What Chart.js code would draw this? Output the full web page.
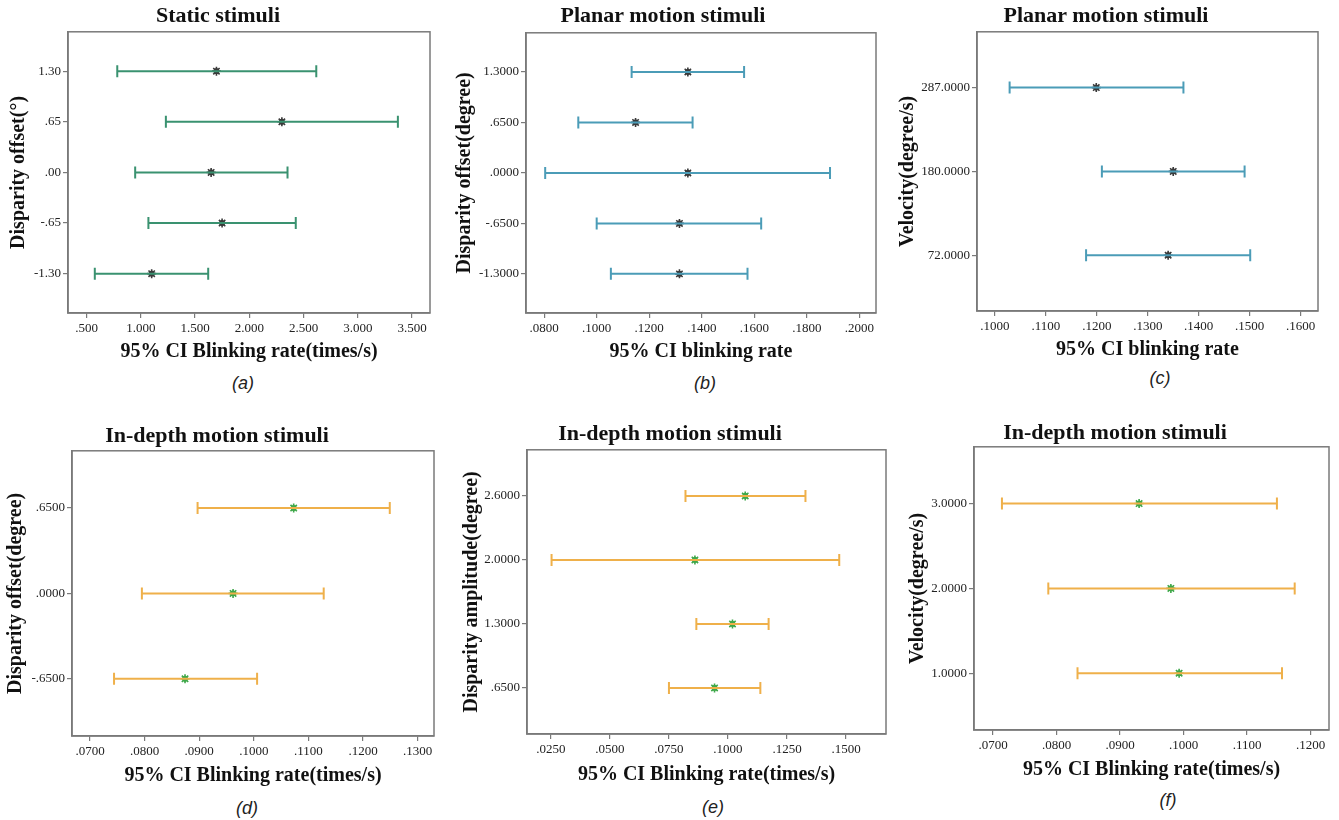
<!DOCTYPE html>
<html>
<head>
<meta charset="utf-8">
<script src="https://cdn.jsdelivr.net/npm/chart.js@4.4.0/dist/chart.umd.min.js"></script>
<style>
  body { margin: 0; background: #fff; width: 1339px; height: 820px; position: relative; overflow: hidden; }
  .panel { position: absolute; }
  .ttl { position: absolute; transform: translate(-50%, -50%); white-space: nowrap;
         font: bold 22px 'Liberation Serif', serif; color: #111; }
  .cap { position: absolute; transform: translate(-50%, -50%); white-space: nowrap;
         font: italic 18px 'Liberation Sans', sans-serif; color: #222; }
</style>
</head>
<body>
<script>
// (a) Static stimuli
const aLabels = ['-1.30', '-.65', '.00', '.65', '1.30'];
const aLow  = [0.576, 1.070, 0.948, 1.231, 0.783];
const aMean = [1.100, 1.749, 1.648, 2.300, 1.697];
const aHigh = [1.621, 2.428, 2.352, 3.369, 2.617];
const aTicks = [0.5, 1, 1.5, 2, 2.5, 3, 3.5];
const aTickLabels = ['.500', '1.000', '1.500', '2.000', '2.500', '3.000', '3.500'];

// (b) Planar motion, disparity offset
const bLabels = ['-1.3000', '-.6500', '.0000', '.6500', '1.3000'];
const bLow  = [0.1054, 0.1000, 0.0804, 0.0930, 0.1133];
const bMean = [0.1315, 0.1315, 0.1347, 0.1148, 0.1347];
const bHigh = [0.1574, 0.1626, 0.1888, 0.1365, 0.1561];
const bTicks = [0.08, 0.10, 0.12, 0.14, 0.16, 0.18, 0.20];
const bTickLabels = ['.0800', '.1000', '.1200', '.1400', '.1600', '.1800', '.2000'];

// (c) Planar motion, velocity
const cLabels = ['72.0000', '180.0000', '287.0000'];
const cLow  = [0.1179, 0.1210, 0.1029];
const cMean = [0.1340, 0.1350, 0.1199];
const cHigh = [0.1501, 0.1490, 0.1370];
const cTicks = [0.10, 0.11, 0.12, 0.13, 0.14, 0.15, 0.16];
const cTickLabels = ['.1000', '.1100', '.1200', '.1300', '.1400', '.1500', '.1600'];

// (d) In-depth motion, disparity offset
const dLabels = ['-.6500', '.0000', '.6500'];
const dLow  = [0.0744, 0.0795, 0.0897];
const dMean = [0.0874, 0.0962, 0.1073];
const dHigh = [0.1006, 0.1128, 0.1249];
const dTicks = [0.07, 0.08, 0.09, 0.10, 0.11, 0.12, 0.13];
const dTickLabels = ['.0700', '.0800', '.0900', '.1000', '.1100', '.1200', '.1300'];

// (e) In-depth motion, disparity amplitude
const eLabels = ['.6500', '1.3000', '2.0000', '2.6000'];
const eLow  = [0.0750, 0.0866, 0.0253, 0.0820];
const eMean = [0.0943, 0.1019, 0.0860, 0.1073];
const eHigh = [0.1137, 0.1172, 0.1471, 0.1328];
const eTicks = [0.025, 0.05, 0.075, 0.10, 0.125, 0.15];
const eTickLabels = ['.0250', '.0500', '.0750', '.1000', '.1250', '.1500'];

// (f) In-depth motion, velocity
const fLabels = ['1.0000', '2.0000', '3.0000'];
const fLow  = [0.0833, 0.0787, 0.0714];
const fMean = [0.0993, 0.0980, 0.0930];
const fHigh = [0.1155, 0.1175, 0.1147];
const fTicks = [0.07, 0.08, 0.09, 0.10, 0.11, 0.12];
const fTickLabels = ['.0700', '.0800', '.0900', '.1000', '.1100', '.1200'];

const GREEN = '#3a9270', TEAL = '#4b9cb7', ORANGE = '#efb04a';
const DARK = '#3a3a3a', MARK_GREEN = '#3fa84a';

// box = plot area [left, top, right, bottom]; yt = y-title centre x; xt = x-title centre y
const panels = [
  { labels: aLabels, low: aLow, mean: aMean, high: aHigh, ticks: aTicks, tickLabels: aTickLabels,
    xMin: 0.329, xMax: 3.665, pad: 0.777, line: GREEN, mark: DARK,
    title: 'Static stimuli', yTitle: 'Disparity offset(°)', xTitle: '95% CI Blinking rate(times/s)', cap: '(a)',
    box: [68, 27, 433, 313], yt: 19, xt: 352, titlePos: [218, 15], capPos: [243, 383] },
  { labels: bLabels, low: bLow, mean: bMean, high: bHigh, ticks: bTicks, tickLabels: bTickLabels,
    xMin: 0.0731, xMax: 0.2063, pad: 0.775, line: TEAL, mark: DARK,
    title: 'Planar motion stimuli', yTitle: 'Disparity offset(degree)', xTitle: '95% CI blinking rate', cap: '(b)',
    box: [526, 28, 879, 313], yt: 465, xt: 352, titlePos: [663, 15], capPos: [705, 383] },
  { labels: cLabels, low: cLow, mean: cMean, high: cHigh, ticks: cTicks, tickLabels: cTickLabels,
    xMin: 0.0965, xMax: 0.1634, pad: 0.666, line: TEAL, mark: DARK,
    title: 'Planar motion stimuli', yTitle: 'Velocity(degree/s)', xTitle: '95% CI blinking rate', cap: '(c)',
    box: [977, 27, 1321, 311], yt: 908, xt: 350, titlePos: [1106, 15], capPos: [1160, 378] },
  { labels: dLabels, low: dLow, mean: dMean, high: dHigh, ticks: dTicks, tickLabels: dTickLabels,
    xMin: 0.0667, xMax: 0.1330, pad: 0.67, line: ORANGE, mark: MARK_GREEN,
    title: 'In-depth motion stimuli', yTitle: 'Disparity offset(degree)', xTitle: '95% CI Blinking rate(times/s)', cap: '(d)',
    box: [72, 446, 437, 736], yt: 15.5, xt: 776, titlePos: [217, 435], capPos: [247, 808] },
  { labels: eLabels, low: eLow, mean: eMean, high: eHigh, ticks: eTicks, tickLabels: eTickLabels,
    xMin: 0.0149, xMax: 0.1669, pad: 0.72, line: ORANGE, mark: MARK_GREEN,
    title: 'In-depth motion stimuli', yTitle: 'Disparity amplitude(degree)', xTitle: '95% CI Blinking rate(times/s)', cap: '(e)',
    box: [527, 445, 889, 734], yt: 472, xt: 775, titlePos: [670, 433], capPos: [713, 807] },
  { labels: fLabels, low: fLow, mean: fMean, high: fHigh, ticks: fTicks, tickLabels: fTickLabels,
    xMin: 0.0670, xMax: 0.1229, pad: 0.669, line: ORANGE, mark: MARK_GREEN,
    title: 'In-depth motion stimuli', yTitle: 'Velocity(degree/s)', xTitle: '95% CI Blinking rate(times/s)', cap: '(f)',
    box: [974, 442, 1332, 730], yt: 918, xt: 770, titlePos: [1115, 432], capPos: [1168, 800] },
];

const AXIS_TITLE_SIZE = 20;
const titleOffset = 4 + AXIS_TITLE_SIZE * 1.2 / 2;   // title padding + half line height
const EDGE = 5;

// plot frame on all four sides
const frame = {
  id: 'frame',
  afterDraw(chart) {
    const { ctx, chartArea: a } = chart;
    ctx.save();
    ctx.strokeStyle = '#7a7a7a';
    ctx.lineWidth = 1.5;
    ctx.strokeRect(a.left, a.top, a.right - a.left, a.bottom - a.top);
    ctx.restore();
  }
};

function addText(cls, text, pos) {
  const el = document.createElement('div');
  el.className = cls;
  el.textContent = text;
  el.style.left = pos[0] + 'px';
  el.style.top = pos[1] + 'px';
  document.body.appendChild(el);
}

function makePanel(p) {
  const [L, T, R, B] = p.box;
  const left = Math.round(p.yt - titleOffset);
  const top = T - EDGE;
  const width = R + EDGE - left;
  const bottom = Math.round(p.xt + titleOffset);
  const height = bottom - top;

  const div = document.createElement('div');
  div.className = 'panel';
  div.style.left = left + 'px';
  div.style.top = top + 'px';
  const canvas = document.createElement('canvas');
  canvas.width = width;
  canvas.height = height;
  canvas.style.width = width + 'px';
  canvas.style.height = height + 'px';
  div.appendChild(canvas);
  document.body.appendChild(div);

  const datasets = p.labels.map((_, i) => ({
    type: 'scatter',
    showLine: true,
    data: [{ x: p.low[i], y: i }, { x: p.high[i], y: i }],
    borderColor: p.line,
    borderWidth: 2,
    pointStyle: 'line',
    rotation: 90,
    pointRadius: 6,
    pointBorderColor: p.line,
    pointBorderWidth: 2,
  }));
  datasets.push({
    type: 'scatter',
    data: p.mean.map((m, i) => ({ x: m, y: i })),
    pointStyle: 'star',
    pointRadius: 4.5,
    pointBorderColor: p.mark,
    pointBorderWidth: 1.6,
  });
  datasets.push({
    type: 'scatter',
    data: p.mean.map((m, i) => ({ x: m, y: i })),
    pointStyle: 'circle',
    pointRadius: 2.6,
    pointBackgroundColor: p.mark,
    pointBorderColor: p.mark,
    pointBorderWidth: 1,
  });

  const tickFont = { family: "'Liberation Serif', serif", size: 13 };
  const titleFont = { family: "'Liberation Serif', serif", size: AXIS_TITLE_SIZE, weight: 'bold' };

  new Chart(canvas, {
    type: 'scatter',
    data: { datasets },
    options: {
      responsive: false,
      animation: false,
      layout: { padding: { top: EDGE, right: EDGE, left: 0, bottom: 0 } },
      plugins: { legend: { display: false }, tooltip: { enabled: false } },
      scales: {
        x: {
          type: 'linear',
          min: p.xMin,
          max: p.xMax,
          afterBuildTicks: s => { s.ticks = p.ticks.map(v => ({ value: v })); },
          afterFit: s => { s.height = bottom - B; },
          ticks: { callback: (v, i) => p.tickLabels[i], font: tickFont, color: '#222',
                   padding: 3, autoSkip: false, maxRotation: 0 },
          grid: { drawOnChartArea: false, tickLength: 5, color: '#7a7a7a', lineWidth: 1.2 },
          border: { color: '#7a7a7a', width: 1.5 },
          title: { display: true, text: p.xTitle, font: titleFont, color: '#111', padding: { top: 4, bottom: 4 } },
        },
        y: {
          type: 'linear',
          min: -p.pad,
          max: p.labels.length - 1 + p.pad,
          afterBuildTicks: s => { s.ticks = p.labels.map((_, i) => ({ value: i })); },
          afterFit: s => { s.width = L - left; },
          ticks: { callback: (v, i) => p.labels[i], font: tickFont, color: '#222', padding: 2, autoSkip: false },
          grid: { drawOnChartArea: false, tickLength: 5, color: '#7a7a7a', lineWidth: 1.2 },
          border: { color: '#7a7a7a', width: 1.5 },
          title: { display: true, text: p.yTitle, font: titleFont, color: '#111', padding: { top: 4, bottom: 4 } },
        },
      },
    },
    plugins: [frame],
  });

  addText('ttl', p.title, p.titlePos);
  addText('cap', p.cap, p.capPos);
}

panels.forEach(makePanel);
</script>
</body>
</html>
